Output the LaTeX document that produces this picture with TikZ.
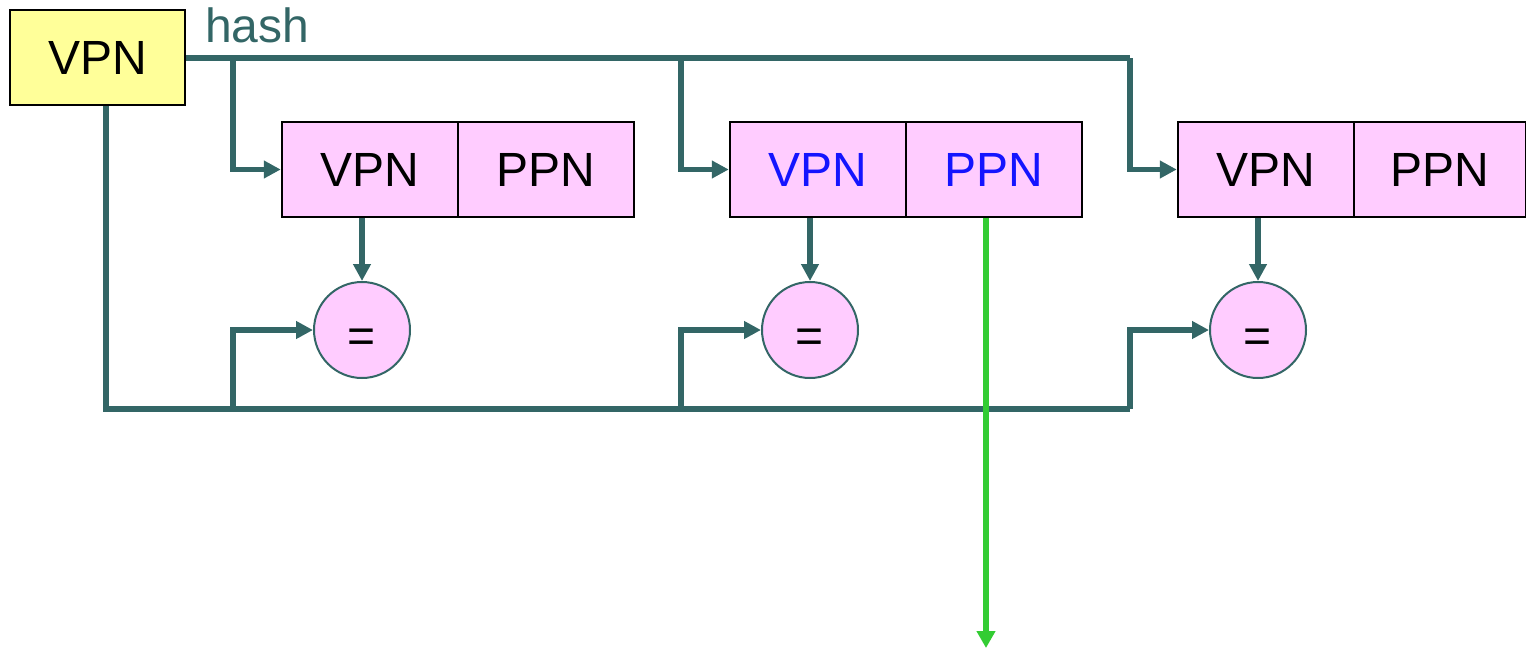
\documentclass[tikz,border=0pt]{standalone}
\usepackage{fontspec}
\setmainfont{Liberation Sans}
\usetikzlibrary{arrows.meta}
\definecolor{wire}{HTML}{336666}
\definecolor{pinkfill}{HTML}{FFCCFF}
\definecolor{yellowfill}{HTML}{FFFF99}
\definecolor{greenarrow}{HTML}{33CC33}
\definecolor{bluetext}{HTML}{1414FF}
\begin{document}
\begin{tikzpicture}[x=1pt,y=-1pt,
  every node/.style={font=\fontsize{48}{48}\selectfont, inner sep=0pt},
  cell/.style={draw=black, line width=2.5pt, fill=pinkfill, minimum width=176pt, minimum height=95pt},
  srcbox/.style={draw=black, line width=2.5pt, fill=yellowfill, minimum width=175pt, minimum height=95pt},
  cmp/.style={circle, draw=wire, line width=2pt, fill=pinkfill, minimum size=96pt, text height=45pt, text depth=0pt},
  wireline/.style={draw=wire, line width=5.5pt},
  wirearrow/.style={wireline, -{Triangle[length=17pt,width=17pt]}},
  hitarrow/.style={draw=greenarrow, line width=6pt, -{Triangle[length=17pt,width=18pt]}}
]
\useasboundingbox (0,0) rectangle (1526,651);

% source
\node[srcbox] (src) at (97.5,57.5) {VPN};
\node[anchor=base west, text=wire] (hash) at (205,42) {hash};

% entries
\node[cell] (v1) at (370,169.5) {VPN};
\node[cell] (p1) at (546,169.5) {PPN};
\node[cell, text=bluetext] (v2) at (818,169.5) {VPN};
\node[cell, text=bluetext] (p2) at (994,169.5) {PPN};
\node[cell] (v3) at (1266,169.5) {VPN};
\node[cell, minimum width=172pt] (p3) at (1440,169.5) {PPN};

% comparators
\node[cmp] (c1) at (362,330) {=};
\node[cmp] (c2) at (810,330) {=};
\node[cmp] (c3) at (1258,330) {=};

% branch points
\coordinate (t1) at (233,58);
\coordinate (t2) at (681,58);
\coordinate (t3) at (1130,58);
\coordinate (b0) at (106,409);
\coordinate (b1) at (233,409);
\coordinate (b2) at (681,409);
\coordinate (b3) at (1130,409);
\coordinate (gend) at (986,648);

% hash bus
\draw[wireline] (src.east |- t1) -- (t3);
\draw[wirearrow] (t1) |- (v1.west);
\draw[wirearrow] (t2) |- (v2.west);
\draw[wirearrow] (t3) |- (v3.west);

% key bus
\draw[wireline] (src.south -| b0) -- (b0) -- (b3);
\draw[wirearrow] (b1) |- (c1.west);
\draw[wirearrow] (b2) |- (c2.west);
\draw[wirearrow] (b3) |- (c3.west);

% entry to comparator
\draw[wirearrow] (c1.north |- v1.south) -- (c1.north);
\draw[wirearrow] (c2.north |- v2.south) -- (c2.north);
\draw[wirearrow] (c3.north |- v3.south) -- (c3.north);

% hit output
\draw[hitarrow] (p2.south -| gend) -- (gend);
\end{tikzpicture}
\end{document}
